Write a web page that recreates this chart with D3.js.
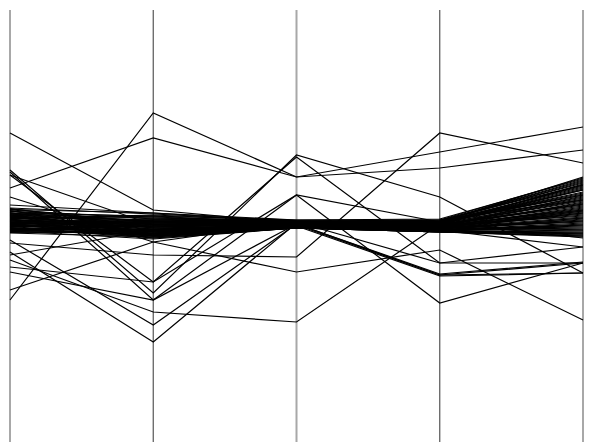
<!DOCTYPE html>
<html>
<head>
<meta charset="utf-8">
<script src="https://cdn.jsdelivr.net/npm/d3@7"></script>
<style>
html,body{margin:0;padding:0;background:#fff;}
svg{display:block;}
</style>
</head>
<body>
<svg id="chart" width="589" height="446"></svg>
<script>
// Five unlabeled dimensions
const dimensions = ["d1", "d2", "d3", "d4", "d5"];
const valueDomain = [0, 43];

// Dense core band of records (values per dimension)
const bandLines = [
  [23.2, 22.6, 21.9, 21.8, 26.3],
  [23.0, 22.1, 21.7, 21.5, 25.6],
  [22.9, 21.8, 21.8, 21.6, 25.1],
  [22.7, 22.4, 21.6, 21.4, 24.4],
  [22.6, 21.5, 21.5, 21.2, 23.8],
  [22.5, 21.9, 21.7, 21.7, 24.8],
  [22.4, 21.2, 21.4, 21.3, 23.2],
  [22.3, 22.0, 21.8, 21.9, 25.9],
  [22.2, 21.4, 21.6, 21.1, 22.7],
  [22.1, 20.9, 21.3, 21.0, 22.1],
  [22.0, 21.7, 21.5, 21.5, 24.0],
  [21.9, 21.1, 21.4, 21.2, 22.9],
  [21.8, 20.6, 21.3, 20.9, 21.6],
  [21.7, 21.6, 21.7, 21.6, 23.5],
  [21.6, 21.0, 21.5, 21.4, 22.4],
  [21.5, 20.4, 21.2, 20.8, 21.0],
  [21.4, 21.3, 21.6, 21.8, 25.3],
  [21.3, 20.8, 21.4, 21.1, 21.9],
  [21.2, 20.2, 21.2, 20.9, 20.6],
  [21.1, 21.0, 21.5, 21.3, 22.6],
  [21.0, 20.5, 21.3, 21.0, 21.2],
  [20.9, 20.1, 21.2, 20.8, 20.3],
  [20.8, 20.7, 21.4, 21.2, 21.8],
  [20.7, 20.3, 21.3, 20.9, 20.8],
  [22.85, 22.3, 21.8, 21.7, 24.6],
  [22.65, 21.6, 21.6, 21.3, 23.3],
  [22.45, 21.0, 21.5, 21.1, 22.2],
  [22.25, 22.2, 21.9, 21.9, 26.0],
  [22.05, 21.3, 21.6, 21.4, 23.0],
  [21.85, 20.7, 21.4, 21.0, 21.5],
  [21.65, 21.8, 21.7, 21.6, 24.2],
  [21.45, 20.9, 21.5, 21.2, 22.0],
  [21.25, 20.4, 21.3, 20.9, 20.9],
  [21.05, 21.4, 21.6, 21.5, 23.9],
  [20.85, 20.6, 21.4, 21.1, 21.3],
  [23.1, 21.7, 21.8, 21.4, 23.6],
  [22.55, 20.8, 21.4, 21.0, 21.7],
  [22.15, 22.5, 21.9, 22.0, 25.5],
  [21.75, 21.9, 21.7, 21.7, 24.7],
  [21.35, 21.5, 21.6, 21.5, 23.4],
  [20.95, 21.1, 21.5, 21.3, 22.5],
  [22.95, 20.5, 21.3, 20.9, 20.5],
  [22.35, 21.1, 21.5, 21.2, 22.3],
  [21.55, 22.0, 21.8, 21.8, 25.0],
  [21.15, 20.3, 21.2, 20.8, 20.4],
  [23.05, 22.7, 22.0, 22.1, 26.1],
  [22.75, 20.4, 21.2, 20.8, 20.7],
  [22.6, 22.2, 21.9, 21.9, 25.7],
  [22.3, 20.6, 21.3, 21.0, 21.1],
  [22.1, 22.4, 22.0, 22.0, 26.2],
  [21.95, 20.2, 21.2, 20.8, 20.4],
  [21.8, 22.1, 21.9, 21.8, 25.4],
  [21.6, 20.5, 21.3, 20.9, 20.7],
  [21.4, 21.9, 21.8, 21.7, 24.5],
  [21.2, 20.7, 21.4, 21.0, 21.4],
  [21.0, 21.7, 21.7, 21.6, 24.3],
  [20.8, 20.9, 21.5, 21.2, 22.8],
  [23.15, 21.3, 21.6, 21.4, 23.1],
  [22.9, 21.2, 21.5, 21.3, 22.9],
  [22.7, 21.9, 21.7, 21.7, 25.2],
  [22.5, 20.8, 21.4, 21.1, 22.2],
  [22.2, 21.6, 21.6, 21.5, 24.1],
  [22.0, 20.9, 21.4, 21.2, 21.9],
  [21.7, 21.3, 21.6, 21.4, 23.7],
  [21.5, 20.6, 21.3, 21.0, 20.6],
  [21.3, 21.8, 21.8, 21.8, 25.8],
  [21.1, 20.4, 21.2, 20.9, 21.5],
  [20.9, 21.5, 21.6, 21.5, 23.6],
  [20.75, 21.0, 21.5, 21.3, 22.7],
  [22.0, 21.5, 21.5, 16.5, 17.7],
  [21.6, 21.0, 21.4, 16.4, 16.7],
  [22.4, 21.8, 21.6, 16.6, 17.8]
];

// Scattered records outside the core band
const outlierLines = [
  [14.0, 32.7, 26.3, 27.2, 29.0],
  [25.2, 30.2, 26.3, 28.8, 31.3],
  [30.7, 23.0, 21.7, 22.0, 24.0],
  [27.0, 14.7, 28.5, 24.3, 16.7],
  [26.8, 14.0, 24.5, 13.7, 17.7],
  [26.5, 15.8, 28.3, 17.7, 19.3],
  [24.3, 19.8, 16.8, 19.0, 12.0],
  [19.7, 18.5, 18.3, 30.7, 27.7],
  [18.8, 9.8, 21.7, 21.4, 21.0],
  [18.0, 12.8, 11.8, 21.6, 25.5],
  [20.0, 11.5, 21.6, 16.5, 16.7],
  [17.3, 15.8, 24.5, 21.8, 20.2],
  [16.8, 14.0, 21.6, 21.0, 19.3],
  [15.0, 19.8, 21.8, 21.4, 23.0],
  [23.5, 22.7, 21.8, 17.7, 17.7],
  [26.5, 21.5, 21.8, 21.6, 25.0],
  [18.5, 21.0, 21.6, 21.8, 24.5]
];

const svg = d3.select("#chart");
const x = d3.scalePoint().domain(dimensions).range([10, 583]);
const y = d3.scaleLinear().domain(valueDomain).range([440, 10]);

const axisStyle = [
  {color: "#a8a8a8", width: 2},
  {color: "#555", width: 1.2},
  {color: "#a8a8a8", width: 2},
  {color: "#555", width: 1.2},
  {color: "#a8a8a8", width: 2}
];

// axes
dimensions.forEach((d, i) => {
  const g = svg.append("g")
    .attr("transform", `translate(${x(d)},0)`)
    .call(d3.axisLeft(y).ticks(0).tickSizeOuter(0));
  g.select(".domain")
    .attr("stroke", axisStyle[i].color)
    .attr("stroke-width", axisStyle[i].width)
    .attr("d", `M0,${y(valueDomain[1])}V${y(valueDomain[0]) + 2}`);
  g.selectAll("text").remove();
});

const line = d3.line()
  .x((v, i) => x(dimensions[i]))
  .y(v => y(v));

const all = bandLines.concat(outlierLines);
svg.append("g")
  .attr("fill", "none")
  .attr("stroke", "#000")
  .attr("stroke-width", 1.2)
  .attr("stroke-opacity", 1)
  .selectAll("path")
  .data(all)
  .join("path")
  .attr("d", line);
</script>
</body>
</html>
